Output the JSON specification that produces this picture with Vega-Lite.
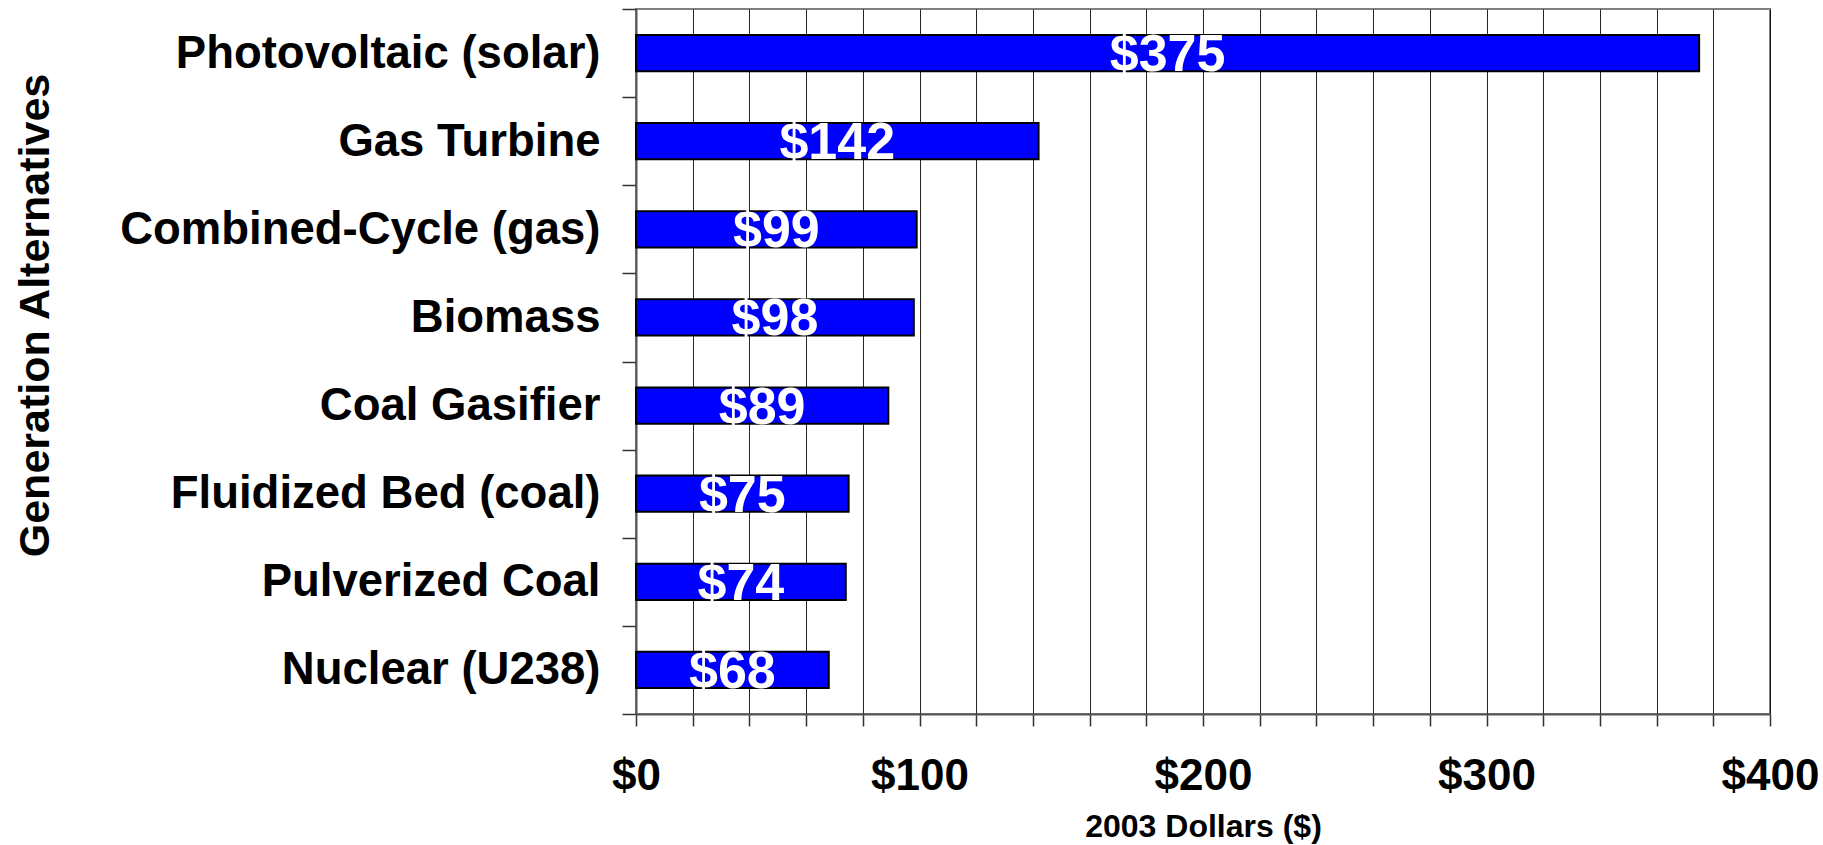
{
  "$schema": "https://vega.github.io/schema/vega-lite/v6.json",
  "autosize": {"type": "none"},
  "width": 1134,
  "height": 705,
  "padding": {"left": 636, "top": 9, "right": 53, "bottom": 131},
  "background": "white",
  "config": {
    "font": "Liberation Sans",
    "view": {"stroke": "#808080", "strokeWidth": 2}
  },
  "data": {
    "values": [
      {"alternative": "Photovoltaic (solar)", "cost": 375},
      {"alternative": "Gas Turbine", "cost": 142},
      {"alternative": "Combined-Cycle (gas)", "cost": 99},
      {"alternative": "Biomass", "cost": 98},
      {"alternative": "Coal Gasifier", "cost": 89},
      {"alternative": "Fluidized Bed (coal)", "cost": 75},
      {"alternative": "Pulverized Coal", "cost": 74},
      {"alternative": "Nuclear (U238)", "cost": 68}
    ]
  },
  "transform": [{"calculate": "datum.cost / 2", "as": "mid"}],
  "encoding": {
    "y": {
      "field": "alternative",
      "type": "nominal",
      "sort": null,
      "scale": {"paddingInner": 0, "paddingOuter": 0},
      "axis": {
        "title": "Generation Alternatives",
        "titleFontSize": 43,
        "titleFontWeight": "bold",
        "titleColor": "black",
        "titleX": -601,
        "titleY": 306,
        "titleAngle": -90,
        "titleBaseline": "middle",
        "titleAlign": "center",
        "labelFontSize": 45.5,
        "labelFontWeight": "bold",
        "labelColor": "black",
        "labelPadding": 22,
        "labelLimit": 620,
        "tickBand": "extent",
        "tickSize": 14,
        "tickColor": "#333",
        "tickWidth": 1.5,
        "domainColor": "#555",
        "domainWidth": 2,
        "grid": false
      }
    }
  },
  "layer": [
    {
      "mark": {"type": "bar", "height": {"band": 0.41}, "fill": "#0000FF", "stroke": "black", "strokeWidth": 2},
      "encoding": {
        "x": {
          "field": "cost",
          "type": "quantitative",
          "scale": {"domain": [0, 400], "nice": false},
          "axis": {
            "title": "2003 Dollars ($)",
            "titleFontSize": 32,
            "titleFontWeight": "bold",
            "titleColor": "black",
            "titleY": 112,
            "titleBaseline": "middle",
            "values": [0, 20, 40, 60, 80, 100, 120, 140, 160, 180, 200, 220, 240, 260, 280, 300, 320, 340, 360, 380, 400],
            "labelExpr": "datum.value % 100 === 0 ? '$' + datum.value : ''",
            "labelFontSize": 44,
            "labelFontWeight": "bold",
            "labelColor": "black",
            "labelPadding": 28,
            "labelOverlap": false,
            "labelFlush": false,
            "tickSize": 12,
            "tickColor": "#333",
            "tickWidth": 1.5,
            "domainColor": "#555",
            "domainWidth": 2,
            "grid": true,
            "gridColor": "black",
            "gridWidth": 1,
            "gridOpacity": 0.85
          }
        }
      }
    },
    {
      "mark": {"type": "text", "color": "white", "fontSize": 52, "fontWeight": "bold", "baseline": "middle", "align": "center", "dy": 2},
      "encoding": {
        "x": {"field": "mid", "type": "quantitative"},
        "text": {"field": "cost", "type": "quantitative", "format": "$d"}
      }
    }
  ]
}
